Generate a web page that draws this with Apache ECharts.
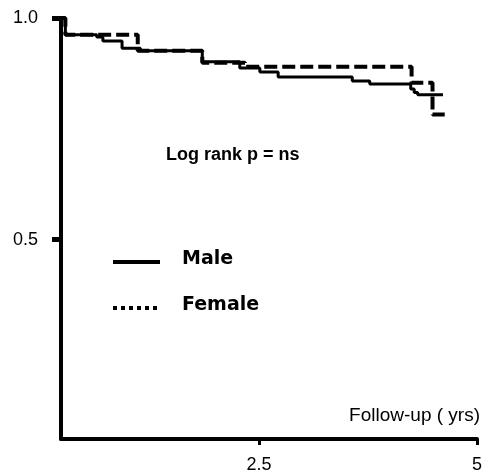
<!DOCTYPE html>
<html>
<head>
<meta charset="utf-8">
<script src="https://cdn.jsdelivr.net/npm/echarts@6/dist/echarts.min.js"></script>
<style>html,body{margin:0;padding:0;background:#fff;}#c{width:482px;height:470px;}</style>
</head>
<body>
<div id="c"></div>
<script>
// Follow-up time (years) and survival for each group (Kaplan-Meier steps)
const maleTimes = [0.23, 0.28, 0.64, 0.71, 0.93, 1.14, 1.85, 2.28, 2.51, 2.72, 3.57, 3.77, 4.24, 4.28, 4.32, 4.61];
const maleSurv  = [1.0, 0.962, 0.957, 0.948, 0.932, 0.926, 0.901, 0.887, 0.878, 0.867, 0.858, 0.851, 0.840, 0.832, 0.827, 0.827];
const femaleTimes = [0.23, 0.28, 1.11, 1.85, 2.34, 4.25, 4.49, 4.63];
const femaleSurv  = [1.0, 0.962, 0.926, 0.899, 0.890, 0.854, 0.782, 0.782];
const xTicks = [2.5, 5];
const yTicks = [0.5, 1.0];
const seriesNames = ['Male', 'Female'];
const annotation = 'Log rank p = ns';
const xTitle = 'Follow-up ( yrs)';

const zip = (a, b) => a.map((v, i) => [v, b[i]]);
const font = 'Liberation Sans, Arial, sans-serif';

const chart = echarts.init(document.getElementById('c'), null, {renderer: 'canvas'});
chart.setOption({
  animation: false,
  backgroundColor: '#fff',
  grid: {left: 61, right: 5, top: 18, bottom: 31, outerBoundsMode: 'none', containLabel: false},
  xAxis: {
    type: 'value', min: 0.23, max: 5,
    splitLine: {show: false},
    axisLine: {lineStyle: {color: '#000', width: 4}},
    axisTick: {customValues: xTicks, length: 6, lineStyle: {color: '#000', width: 3}},
    axisLabel: {customValues: xTicks, formatter: v => String(v), color: '#000', fontSize: 18, fontFamily: font, margin: 17}
  },
  yAxis: {
    type: 'value', min: 0.05, max: 1.0,
    splitLine: {show: false},
    axisLine: {lineStyle: {color: '#000', width: 4}},
    axisTick: {customValues: yTicks, length: 9, lineStyle: {color: '#000', width: 5}},
    axisLabel: {customValues: yTicks, formatter: v => v.toFixed(1), color: '#000', fontSize: 18, fontFamily: font, margin: 23}
  },
  series: [
    {name: seriesNames[0], type: 'line', step: 'end', symbol: 'none', data: zip(maleTimes, maleSurv),
     lineStyle: {color: '#000', width: 3}},
    {name: seriesNames[1], type: 'line', step: 'end', symbol: 'none', data: zip(femaleTimes, femaleSurv),
     lineStyle: {color: '#000', width: 4, type: [13, 5]}}
  ],
  graphic: [
    {type: 'text', left: 166, top: 146, style: {text: annotation, font: 'bold 18px ' + font, fill: '#000'}},
    {type: 'line', shape: {x1: 113, y1: 262, x2: 160, y2: 262}, style: {stroke: '#000', lineWidth: 4}},
    {type: 'text', left: 182, top: 250, style: {text: seriesNames[0], font: 'bold 19px DejaVu Sans, sans-serif', fill: '#000'}},
    {type: 'line', shape: {x1: 113, y1: 308, x2: 160, y2: 308}, style: {stroke: '#000', lineWidth: 4, lineDash: [4, 4]}},
    {type: 'text', left: 182, top: 296, style: {text: seriesNames[1], font: 'bold 19px DejaVu Sans, sans-serif', fill: '#000'}},
    {type: 'text', right: 2, top: 406, style: {text: xTitle, font: '19px ' + font, fill: '#000'}}
  ]
});
</script>
</body>
</html>
